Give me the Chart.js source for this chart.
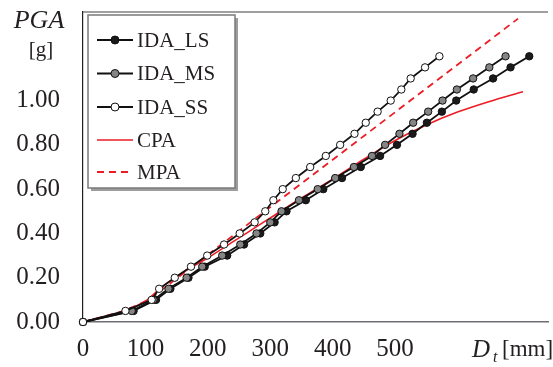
<!DOCTYPE html>
<html>
<head>
<meta charset="utf-8">
<script src="https://cdn.jsdelivr.net/npm/chart.js@4"></script>
<style>
  body { margin: 0; background: #fff; }
  canvas { display: block; }
</style>
</head>
<body>
<canvas id="myChart" width="553" height="367"></canvas>
<script>
// PGA levels of the IDA steps [g]
const pga = [0.00, 0.05, 0.10, 0.15, 0.20, 0.25, 0.30, 0.35, 0.40, 0.45, 0.50, 0.55, 0.60,
             0.65, 0.70, 0.75, 0.80, 0.85, 0.90, 0.95, 1.00, 1.05, 1.10, 1.15, 1.20];
// top displacement D_t [mm] for each step
const dtLS = [0, 81, 117, 140, 169, 195, 231, 258, 284, 307, 326, 357, 385,
              415, 445, 476, 503, 528, 551, 575, 598, 626, 657, 685, 715];
const dtMS = [0, 78, 113, 137, 166, 191, 223, 252, 278, 300, 318, 346, 376,
              404, 434, 463, 484, 507, 529, 553, 576, 599, 625, 651, 677];
const dtSS = [0, 68, 110, 122, 147, 173, 199, 226, 251, 275, 292, 305, 320,
              341, 364, 389, 412, 435, 453, 472, 493, 510, 525, 548, 571];

const cpaDt  = [0, 66, 103, 125, 161, 200, 250, 300, 350, 400, 450, 500, 550, 600, 650, 705];
const cpaPga = [0, 0.05, 0.10, 0.155, 0.225, 0.29, 0.38, 0.47, 0.56, 0.645, 0.735, 0.82, 0.89, 0.948, 0.995, 1.04];

const mpaDt  = [0, 66, 105, 697];
const mpaPga = [0, 0.05, 0.10, 1.37];

const labels = ["IDA_LS", "IDA_MS", "IDA_SS", "CPA", "MPA"];
const xTickLast = 500;
const yTickLast = 1.0;

const serif = '"Liberation Serif", "Times New Roman", serif';
const ink = "#231f20";
const red = "#ed1c24";

function pts(xs, ys) {
    return xs.map((x, i) => ({ x: x, y: ys[i] }));
}

function idaSet(label, xs, fill, order) {
    return {
        label: label,
        data: pts(xs, pga),
        borderColor: "#111",
        borderWidth: 1.8,
        pointRadius: 3.7,
        pointBackgroundColor: fill,
        pointBorderColor: "#111",
        pointBorderWidth: 1,
        clip: false,
        order: order
    };
}

const frame = {
    id: "frame",
    afterDraw(chart) {
        const ctx = chart.ctx;
        const a = chart.chartArea;
        ctx.save();

        // top border of the plot box
        ctx.strokeStyle = "#808080";
        ctx.lineWidth = 1.5;
        ctx.beginPath();
        ctx.moveTo(a.left, a.top);
        ctx.lineTo(a.right, a.top);
        ctx.stroke();

        // axis titles
        ctx.fillStyle = ink;
        ctx.textBaseline = "alphabetic";
        ctx.textAlign = "center";
        ctx.font = "italic 26px " + serif;
        ctx.fillText("PGA", 39, 28);
        ctx.font = "21px " + serif;
        ctx.fillText("[g]", 41, 56);
        ctx.textAlign = "left";
        ctx.font = "italic 25px " + serif;
        ctx.fillText("D", 472, 357);
        ctx.font = "italic 16px " + serif;
        ctx.fillText("t", 493, 362);
        ctx.font = "23px " + serif;
        ctx.fillText("[mm]", 502, 356);

        // legend box
        ctx.fillStyle = "#9d9d9d";
        ctx.fillRect(91, 18, 147, 173);
        ctx.fillStyle = "#fff";
        ctx.fillRect(88, 15, 147, 173);
        ctx.strokeStyle = "#7a7a7a";
        ctx.lineWidth = 1.5;
        ctx.strokeRect(88, 15, 147, 173);

        const rows = [40, 73.5, 107, 140, 172];
        const ds = chart.data.datasets;
        ds.forEach((d, i) => {
            const y = rows[i];
            ctx.strokeStyle = d.borderColor;
            ctx.lineWidth = d.borderWidth;
            ctx.setLineDash(d.borderDash || []);
            ctx.beginPath();
            ctx.moveTo(97, y);
            ctx.lineTo(133, y);
            ctx.stroke();
            ctx.setLineDash([]);
            if (d.pointRadius > 0) {
                ctx.beginPath();
                ctx.arc(115, y, 4, 0, Math.PI * 2);
                ctx.fillStyle = d.pointBackgroundColor;
                ctx.fill();
                ctx.lineWidth = 1;
                ctx.strokeStyle = "#111";
                ctx.stroke();
            }
            ctx.fillStyle = ink;
            ctx.font = "21px " + serif;
            ctx.textBaseline = "middle";
            ctx.fillText(d.label, 137, y + 1);
        });
        ctx.restore();
    }
};

new Chart("myChart", {
    type: "line",
    data: {
        datasets: [
            idaSet(labels[0], dtLS, "#1a1a1a", 3),
            idaSet(labels[1], dtMS, "#858585", 2),
            idaSet(labels[2], dtSS, "#ffffff", 1),
            {
                label: labels[3],
                data: pts(cpaDt, cpaPga),
                borderColor: red,
                borderWidth: 1.6,
                pointRadius: 0,
                cubicInterpolationMode: "monotone",
                order: 4
            },
            {
                label: labels[4],
                data: pts(mpaDt, mpaPga),
                borderColor: red,
                borderWidth: 1.8,
                borderDash: [7, 5],
                pointRadius: 0,
                order: 5
            }
        ]
    },
    options: {
        responsive: false,
        devicePixelRatio: 1,
        animation: false,
        layout: { padding: { top: 12, right: 0, left: 0, bottom: 0 } },
        plugins: {
            legend: { display: false },
            tooltip: { enabled: false }
        },
        scales: {
            x: {
                type: "linear",
                min: 0,
                max: 745,
                grid: { display: false, drawTicks: false },
                border: { display: true, color: "#6d6e71", width: 1.6 },
                ticks: {
                    stepSize: 100,
                    padding: 12,
                    color: ink,
                    autoSkip: false,
                    maxRotation: 0,
                    font: { family: serif, size: 25 }
                },
                afterBuildTicks: s => { s.ticks = s.ticks.filter(t => t.value <= xTickLast); },
                afterFit: s => {
                    s.height = 45;
                    s.paddingLeft = 0; s.paddingRight = 0;
                }
            },
            y: {
                min: 0,
                max: 1.4,
                grid: { display: false, drawTicks: false },
                border: { display: true, color: ink, width: 1.2 },
                ticks: {
                    stepSize: 0.2,
                    padding: 23,
                    color: ink,
                    font: { family: serif, size: 25 },
                    callback: v => v.toFixed(2)
                },
                afterBuildTicks: s => { s.ticks = s.ticks.filter(t => t.value <= yTickLast + 1e-6); },
                afterFit: s => {
                    s.width = 83;
                    s.paddingTop = 0; s.paddingBottom = 0;
                }
            }
        }
    },
    plugins: [frame]
});
</script>
</body>
</html>
